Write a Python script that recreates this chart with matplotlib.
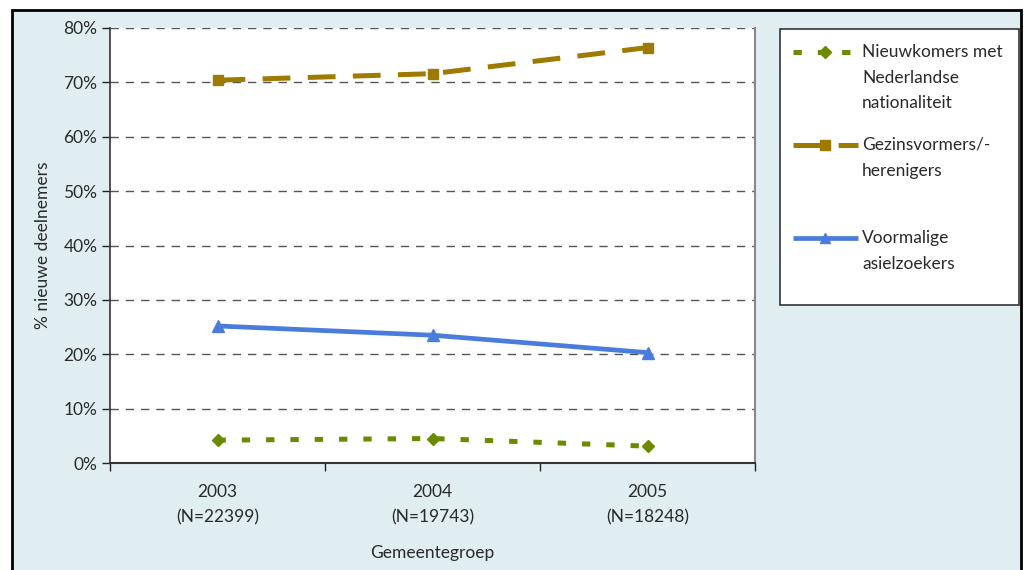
import matplotlib
matplotlib.use("Agg")
import matplotlib.pyplot as plt
from matplotlib.patches import Rectangle
from matplotlib.lines import Line2D

plt.rcParams['font.family'] = ['Lato', 'DejaVu Sans']
plt.rcParams['lines.scale_dashes'] = False

years = ["2003\n(N=22399)", "2004\n(N=19743)", "2005\n(N=18248)"]
nieuwkomers = [4.2, 4.5, 3.1]
gezinsvormers = [70.4, 71.6, 76.4]
asielzoekers = [25.2, 23.5, 20.3]
labels = ["Nieuwkomers met\nNederlandse\nnationaliteit",
          "Gezinsvormers/-\nherenigers",
          "Voormalige\nasielzoekers"]
yticks = [0, 10, 20, 30, 40, 50, 60, 70, 80]

W, H = 1025, 570
FS = 12.5
TXT = "#2a2a2a"
fig = plt.figure(figsize=(W / 100, H / 100), dpi=100)
fig.patch.set_facecolor("white")

# outer frame
fig.patches.append(Rectangle((12 / W, -0.05), (1021 - 12) / W, 1 - 10 / H + 0.05,
                             transform=fig.transFigure, facecolor="#E0EEF2",
                             edgecolor="black", linewidth=2.0, zorder=-10))

ax = fig.add_axes([110 / W, 1 - 463 / H, (755 - 110) / W, (463 - 28) / H])
ax.set_facecolor("white")

styles = [
    dict(color="#6A8A00", lw=3.6, linestyle=(0, (6, 11.5)), marker="D", ms=6.5),
    dict(color="#9E7A00", lw=3.6, linestyle=(0, (20, 12.5)), marker="s", ms=7),
    dict(color="#4A7DDB", lw=3.4, linestyle="-", marker="^", ms=8),
]
series = [nieuwkomers, gezinsvormers, asielzoekers]
x = list(range(len(years)))
for vals, st in zip(series, styles):
    ax.plot(x, vals, color=st["color"], lw=st["lw"], linestyle=st["linestyle"],
            marker=st["marker"], ms=st["ms"], mec=st["color"], mfc=st["color"],
            zorder=3, solid_capstyle="butt", dash_capstyle="butt")

ax.set_xlim(-0.5, 2.5)
ax.set_ylim(0, 80)
ax.set_yticks(yticks)
ax.set_yticklabels([f"{v}%" for v in yticks], fontsize=FS, color=TXT)
for v in yticks[1:]:
    ax.axhline(v, color="#555555", lw=1.0, linestyle=(0, (6, 5)), zorder=1)

ax.set_xticks([-0.5, 0.5, 1.5, 2.5])
ax.set_xticklabels([])
ax.set_xticks(x, minor=True)
ax.set_xticklabels(years, minor=True, fontsize=FS, color=TXT, linespacing=1.75)
ax.tick_params(axis="x", which="minor", length=0, pad=15)
ax.tick_params(axis="x", which="major", length=6, width=1, color="#222222", direction="out")
ax.tick_params(axis="y", length=6, width=1, color="#222222", direction="out", pad=3)

ax.spines["top"].set_visible(False)
ax.spines["right"].set_color("#888888")
ax.spines["right"].set_linewidth(1.5)
ax.spines["left"].set_color("#333333")
ax.spines["bottom"].set_color("#333333")
ax.spines["left"].set_linewidth(1.2)
ax.spines["bottom"].set_linewidth(1.5)

ax.set_ylabel("% nieuwe deelnemers", fontsize=FS, color=TXT, labelpad=9)
ax.set_xlabel("Gemeentegroep", fontsize=FS, color=TXT, labelpad=14)

# legend box
fig.patches.append(Rectangle((780 / W, 1 - 305 / H), (1019 - 780) / W, (305 - 29) / H,
                             transform=fig.transFigure, facecolor="white",
                             edgecolor="#333333", linewidth=1.2, zorder=1))
ly = [52, 145, 238]
for lab, st, yy in zip(labels, styles, ly):
    yf = 1 - yy / H
    fig.add_artist(Line2D([793 / W, 858 / W], [yf, yf], transform=fig.transFigure,
                          color=st["color"], lw=st["lw"], linestyle=st["linestyle"],
                          solid_capstyle="butt", dash_capstyle="butt", zorder=3))
    fig.add_artist(Line2D([825 / W], [yf], transform=fig.transFigure,
                          color=st["color"], marker=st["marker"], ms=st["ms"] - 0.5,
                          linestyle="none", zorder=4))
    fig.text(862 / W, yf + 8 / H, lab, fontsize=FS, color=TXT,
             va="top", ha="left", linespacing=1.75, zorder=5)

fig.savefig("out.png", dpi=100)
